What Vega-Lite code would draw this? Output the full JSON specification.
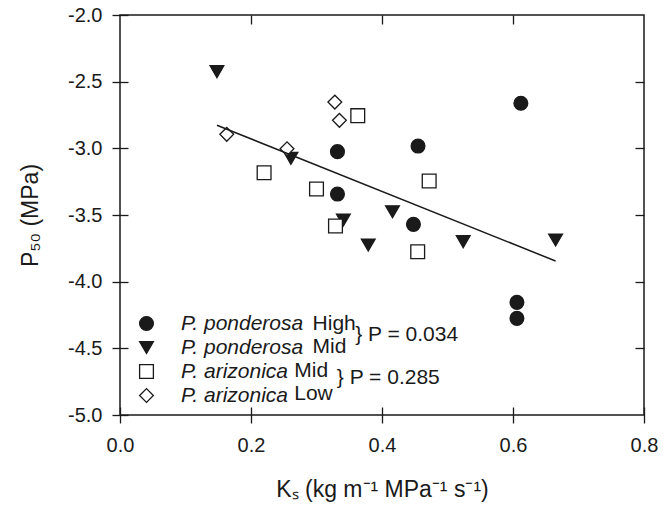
{
  "$schema": "https://vega.github.io/schema/vega-lite/v6.json",
  "width": 524,
  "height": 400,
  "autosize": {"type": "none"},
  "padding": {"left": 120, "top": 15, "right": 24, "bottom": 97},
  "background": "white",
  "config": {
    "view": {"stroke": "#1a1a1a", "strokeWidth": 1.5},
    "font": "Liberation Sans",
    "axis": {
      "grid": false,
      "domain": false,
      "labelFlush": false,
      "zindex": 1,
      "tickColor": "#1a1a1a",
      "tickWidth": 1.3,
      "labelFont": "Liberation Sans",
      "labelFontSize": 20,
      "labelColor": "#1a1a1a",
      "titleFont": "Liberation Sans",
      "titleFontSize": 23,
      "titleFontWeight": "normal",
      "titleColor": "#1a1a1a"
    },
    "legend": {
      "orient": "none", "legendX": 16, "legendY": 298, "title": null,
      "labelFontStyle": "italic", "labelFontSize": 21, "labelFont": "Liberation Sans", "labelColor": "#1a1a1a",
      "symbolSize": 190, "symbolStrokeWidth": 1.3, "labelOffset": 24, "rowPadding": 2, "padding": 0
    }
  },
  "datasets": {
    "points": [
      {"ks": 0.148, "p50": -2.425, "group": "P. ponderosa Mid"},
      {"ks": 0.261, "p50": -3.075, "group": "P. ponderosa Mid"},
      {"ks": 0.341, "p50": -3.538, "group": "P. ponderosa Mid"},
      {"ks": 0.416, "p50": -3.476, "group": "P. ponderosa Mid"},
      {"ks": 0.379, "p50": -3.725, "group": "P. ponderosa Mid"},
      {"ks": 0.524, "p50": -3.7, "group": "P. ponderosa Mid"},
      {"ks": 0.665, "p50": -3.688, "group": "P. ponderosa Mid"},
      {"ks": 0.612, "p50": -2.662, "group": "P. ponderosa High"},
      {"ks": 0.455, "p50": -2.983, "group": "P. ponderosa High"},
      {"ks": 0.332, "p50": -3.025, "group": "P. ponderosa High"},
      {"ks": 0.332, "p50": -3.343, "group": "P. ponderosa High"},
      {"ks": 0.448, "p50": -3.57, "group": "P. ponderosa High"},
      {"ks": 0.606, "p50": -4.155, "group": "P. ponderosa High"},
      {"ks": 0.606, "p50": -4.275, "group": "P. ponderosa High"},
      {"ks": 0.363, "p50": -2.755, "group": "P. arizonica Mid"},
      {"ks": 0.22, "p50": -3.183, "group": "P. arizonica Mid"},
      {"ks": 0.3, "p50": -3.305, "group": "P. arizonica Mid"},
      {"ks": 0.472, "p50": -3.245, "group": "P. arizonica Mid"},
      {"ks": 0.329, "p50": -3.583, "group": "P. arizonica Mid"},
      {"ks": 0.4545, "p50": -3.776, "group": "P. arizonica Mid"},
      {"ks": 0.328, "p50": -2.653, "group": "P. arizonica Low"},
      {"ks": 0.335, "p50": -2.79, "group": "P. arizonica Low"},
      {"ks": 0.163, "p50": -2.895, "group": "P. arizonica Low"},
      {"ks": 0.255, "p50": -3.003, "group": "P. arizonica Low"}
    ],
    "fit": [
      {"ks": 0.148, "p50": -2.827},
      {"ks": 0.665, "p50": -3.845}
    ]
  },
  "layer": [
    {
      "layer": [
        {
          "data": {"name": "points"},
          "mark": {"type": "point", "size": 190, "strokeWidth": 1.3, "opacity": 1},
          "encoding": {
            "x": {
              "field": "ks", "type": "quantitative",
              "scale": {"domain": [0, 0.8]},
              "axis": {"orient": "bottom", "values": [0, 0.2, 0.4, 0.6, 0.8], "format": ".1f", "tickSize": 16, "offset": -8, "labelPadding": 12, "title": "Kₛ (kg m⁻¹ MPa⁻¹ s⁻¹)", "titlePadding": 23}
            },
            "y": {
              "field": "p50", "type": "quantitative",
              "scale": {"domain": [-5, -2], "zero": false},
              "axis": {"orient": "left", "values": [-5, -4.5, -4, -3.5, -3, -2.5, -2], "format": ".1f", "labelExpr": "replace(datum.label, '−', '-')", "tickSize": 16, "offset": -8, "labelPadding": 10, "title": "P₅₀ (MPa)", "titlePadding": 25}
            },
            "shape": {
              "field": "group", "type": "nominal",
              "scale": {"domain": ["P. ponderosa High", "P. ponderosa Mid", "P. arizonica Mid", "P. arizonica Low"], "range": ["circle", "triangle-down", "square", "diamond"]},
              "legend": {"labelExpr": "slice(datum.label, 0, 12)"}
            },
            "fill": {
              "field": "group", "type": "nominal",
              "scale": {"domain": ["P. ponderosa High", "P. ponderosa Mid", "P. arizonica Mid", "P. arizonica Low"], "range": ["#1a1a1a", "#1a1a1a", "white", "white"]},
              "legend": {"labelExpr": "slice(datum.label, 0, 12)"}
            },
            "stroke": {
              "field": "group", "type": "nominal",
              "scale": {"domain": ["P. ponderosa High", "P. ponderosa Mid", "P. arizonica Mid", "P. arizonica Low"], "range": ["#1a1a1a", "#1a1a1a", "#1a1a1a", "#1a1a1a"]},
              "legend": {"labelExpr": "slice(datum.label, 0, 12)"}
            }
          }
        },
        {
          "data": {"values": [{"label": "High"}]},
          "mark": {"type": "text", "align": "left", "baseline": "middle", "fontSize": 21, "font": "Liberation Sans", "color": "#1a1a1a"},
          "encoding": {"text": {"field": "label"}, "x": {"datum": 0.294, "type": "quantitative"}, "y": {"datum": -4.318, "type": "quantitative"}}
        },
        {
          "data": {"values": [{"label": "Mid"}]},
          "mark": {"type": "text", "align": "left", "baseline": "middle", "fontSize": 21, "font": "Liberation Sans", "color": "#1a1a1a"},
          "encoding": {"text": {"field": "label"}, "x": {"datum": 0.294, "type": "quantitative"}, "y": {"datum": -4.488, "type": "quantitative"}}
        },
        {
          "data": {"values": [{"label": "Mid"}]},
          "mark": {"type": "text", "align": "left", "baseline": "middle", "fontSize": 21, "font": "Liberation Sans", "color": "#1a1a1a"},
          "encoding": {"text": {"field": "label"}, "x": {"datum": 0.266, "type": "quantitative"}, "y": {"datum": -4.668, "type": "quantitative"}}
        },
        {
          "data": {"values": [{"label": "Low"}]},
          "mark": {"type": "text", "align": "left", "baseline": "middle", "fontSize": 21, "font": "Liberation Sans", "color": "#1a1a1a"},
          "encoding": {"text": {"field": "label"}, "x": {"datum": 0.266, "type": "quantitative"}, "y": {"datum": -4.846, "type": "quantitative"}}
        },
        {
          "data": {"values": [{"label": "} P = 0.034"}]},
          "mark": {"type": "text", "align": "left", "baseline": "middle", "fontSize": 21, "font": "Liberation Sans", "color": "#1a1a1a"},
          "encoding": {"text": {"field": "label"}, "x": {"datum": 0.359, "type": "quantitative"}, "y": {"datum": -4.4, "type": "quantitative"}}
        },
        {
          "data": {"values": [{"label": "} P = 0.285"}]},
          "mark": {"type": "text", "align": "left", "baseline": "middle", "fontSize": 21, "font": "Liberation Sans", "color": "#1a1a1a"},
          "encoding": {"text": {"field": "label"}, "x": {"datum": 0.331, "type": "quantitative"}, "y": {"datum": -4.723, "type": "quantitative"}}
        }
      ]
    },
    {
      "data": {"name": "fit"},
      "mark": {"type": "line", "color": "#1a1a1a", "strokeWidth": 1.5},
      "encoding": {
        "x": {"field": "ks", "type": "quantitative", "scale": {"domain": [0, 0.8]}, "axis": {"orient": "top", "values": [0.2, 0.4, 0.6], "labels": false, "title": null, "tickSize": 9, "offset": -9, "zindex": 1}},
        "y": {"field": "p50", "type": "quantitative", "scale": {"domain": [-5, -2], "zero": false}, "axis": {"orient": "right", "values": [-4.5, -4, -3.5, -3, -2.5], "labels": false, "title": null, "tickSize": 9, "offset": -9, "zindex": 1}}
      }
    }
  ],
  "resolve": {"scale": {"x": "independent", "y": "independent"}}
}
